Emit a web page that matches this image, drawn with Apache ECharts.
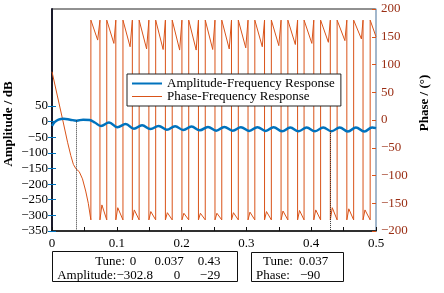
<!DOCTYPE html>
<html>
<head>
<meta charset="utf-8">
<script src="https://cdn.jsdelivr.net/npm/echarts@6/dist/echarts.min.js"></script>
<style>
  html, body { margin: 0; padding: 0; background: #fff; }
  #chart { width: 444px; height: 293px; }
</style>
</head>
<body>
<div id="chart"></div>
<script>
// amplitude-frequency response (dB)
const ampX = [0, 0.004, 0.010, 0.018, 0.028, 0.038, 0.048, 0.058, 0.066,
  0.0756, 0.088, 0.101, 0.1137, 0.1264, 0.139, 0.152, 0.1646, 0.1772, 0.19,
  0.2026, 0.2153, 0.228, 0.2407, 0.2534, 0.266, 0.2788, 0.2915, 0.3042, 0.317,
  0.3296, 0.342, 0.355, 0.3677, 0.3804, 0.393, 0.4058, 0.4185, 0.4312, 0.444,
  0.4566, 0.469, 0.482, 0.494, 0.5]
const ampY = [-14, -2, 6, 9, 6, 3, 6, 5, -3,
  -14, -3, -18, -8, -23, -12, -24, -14, -26, -15,
  -27, -16, -28, -17, -29, -17, -29, -18, -30, -18,
  -30, -18, -31, -19, -31, -19, -31, -19, -31, -19,
  -32, -19, -32, -19, -21]

// phase-frequency response (deg): first fall, then wrapped cycles
const phaseStartX = [0, 0.008, 0.016, 0.024, 0.029, 0.033, 0.037, 0.042, 0.047, 0.052, 0.056, 0.060]
const phaseStart = [87, 45, 3, -40, -64, -80, -88, -93, -106, -128, -150, -180]
const wrapUpX = [0.060, 0.0845, 0.1095, 0.1345, 0.160, 0.1855, 0.211, 0.2365, 0.262,
  0.2875, 0.313, 0.3385, 0.364, 0.389, 0.4145, 0.440, 0.4655, 0.491]
const vBottomX = [0.0705, 0.0955, 0.1205, 0.146, 0.1715, 0.197, 0.2225, 0.248, 0.2735,
  0.299, 0.3245, 0.35, 0.3755, 0.401, 0.4265, 0.452, 0.4775, 0.5]
const vBottom = [144, 138, 132, 128, 127, 126, 126, 127, 128,
  130, 132, 134, 136, 138, 140, 143, 146, 150]
const wrapDownX = [0.074, 0.0985, 0.124, 0.1495, 0.175, 0.2005, 0.226, 0.2515, 0.277,
  0.3025, 0.328, 0.3535, 0.379, 0.404, 0.4295, 0.455, 0.480]
const humpX = [0.077, 0.1015, 0.127, 0.1525, 0.178, 0.2035, 0.229, 0.2545, 0.280,
  0.3055, 0.331, 0.3565, 0.382, 0.407, 0.4325, 0.458, 0.483]
const hump = [-153, -158, -162, -165, -167, -168, -168, -168, -167,
  -166, -165, -164, -163, -162, -158, -160, -162]

// left axis ticks, readout boxes
const ampTicks = [-350, -300, -250, -200, -150, -100, -50, 0, 50]
const markTune = [0, 0.037, 0.43]
const markAmp = ['\u2212302.8', '0', '\u221229']
const cursorTune = '0.037'
const cursorPhase = '\u221290'

const blue = '#0072BD'
const orange = '#D95319'
const serif = 'Liberation Serif'

const ampData = ampX.map((x, i) => [x, ampY[i]])

const phaseData = phaseStartX.map((x, i) => [x, phaseStart[i]])
wrapUpX.forEach((x, i) => {
  phaseData.push([x, 180])
  phaseData.push([vBottomX[i], vBottom[i]])
  if (i < wrapDownX.length) {
    phaseData.push([wrapDownX[i], 180])
    phaseData.push([wrapDownX[i], -180])
    phaseData.push([humpX[i], hump[i]])
    phaseData.push([wrapUpX[i + 1], -180])
  }
})

const txt = (x, y, s, align) => ({
  type: 'text', x, y,
  style: { text: s, font: '13px "' + serif + '"', fill: '#000',
    textAlign: align || 'left', textVerticalAlign: 'middle' }
})

const chart = echarts.init(document.getElementById('chart'))

const option = {
  animation: false,
  grid: { left: 52, right: 68, top: 9, bottom: 62, show: true, borderColor: '#222', borderWidth: 1 },
  legend: {
    orient: 'vertical', left: 127, top: 74,
    padding: [3, 6, 3, 5], itemGap: 0, itemWidth: 30, itemHeight: 2,
    backgroundColor: '#fff', borderColor: '#222', borderWidth: 1,
    textStyle: { fontFamily: serif, fontSize: 13, color: '#000', lineHeight: 11 },
    data: [
      { name: 'Amplitude-Frequency Response', icon: 'rect' },
      { name: 'Phase-Frequency Response', icon: 'path://M0,0 L30,0 L30,1 L0,1 Z' }
    ]
  },
  xAxis: {
    type: 'value', min: 0, max: 0.5, interval: 0.05,
    axisLine: { onZero: false, lineStyle: { color: '#111', width: 1.5 } },
    axisTick: { inside: true, length: 4, lineStyle: { color: '#111' } },
    splitLine: { show: false },
    axisLabel: {
      margin: 6, fontFamily: serif, fontSize: 13, color: '#000', hideOverlap: false,
      formatter: v => (Math.round(v * 100) % 10 === 0 ? String(+v.toFixed(1)) : '')
    }
  },
  yAxis: [
    {
      type: 'value', min: -350, max: 360, position: 'left',
      axisLine: { show: true, onZero: false, lineStyle: { color: '#1a1a2a', width: 2 } },
      axisTick: { show: true, inside: true, length: 4, customValues: ampTicks, lineStyle: { color: blue } },
      axisLabel: { margin: 4, customValues: ampTicks, fontFamily: serif, fontSize: 13, color: '#000',
        formatter: v => String(v).replace('-', '\u2212') },
      splitLine: { show: false }
    },
    {
      type: 'value', min: -200, max: 200, interval: 50, position: 'right',
      axisLine: { show: true, onZero: false, lineStyle: { color: '#a9c4e0', width: 1.5 } },
      axisTick: { show: true, inside: true, length: 4, lineStyle: { color: orange } },
      axisLabel: { margin: 5, fontFamily: serif, fontSize: 13, color: '#9a2e14',
        formatter: v => String(v).replace('-', '\u2212') },
      splitLine: { show: false }
    },
    {
      type: 'value', min: -350, max: 360, position: 'right',
      axisLine: { show: false },
      axisTick: { show: true, inside: true, length: 4, customValues: ampTicks, lineStyle: { color: blue } },
      axisLabel: { show: false },
      splitLine: { show: false }
    }
  ],
  series: [
    {
      name: 'Amplitude-Frequency Response', type: 'line', yAxisIndex: 0,
      data: ampData, symbol: 'none', smooth: 0.4, z: 4,
      lineStyle: { color: blue, width: 2.5 }, itemStyle: { color: blue },
      markLine: {
        silent: true, symbol: 'none', label: { show: false },
        lineStyle: { color: '#333', type: 'dotted', width: 1 },
        data: [
          [{ coord: [0.037, 4] }, { coord: [0.037, -350] }],
          [{ coord: [0.43, -30] }, { coord: [0.43, -350] }]
        ]
      }
    },
    {
      name: 'Phase-Frequency Response', type: 'line', yAxisIndex: 1,
      data: phaseData, symbol: 'none', z: 2,
      lineStyle: { color: orange, width: 1 }, itemStyle: { color: orange }
    }
  ],
  graphic: [
    { type: 'text', x: 9, y: 124, rotation: Math.PI / 2,
      style: { text: 'Amplitude / dB', font: 'bold 13px "' + serif + '"', fill: '#000',
        textAlign: 'center', textVerticalAlign: 'middle' } },
    { type: 'text', x: 425, y: 103, rotation: Math.PI / 2,
      style: { text: 'Phase / (\u00b0)', font: 'bold 13px "' + serif + '"', fill: '#000',
        textAlign: 'center', textVerticalAlign: 'middle' } },
    { type: 'rect', shape: { x: 52.5, y: 251.5, width: 185, height: 30 },
      style: { fill: '#fff', stroke: '#111', lineWidth: 1 } },
    { type: 'rect', shape: { x: 251.5, y: 252.5, width: 92, height: 29 },
      style: { fill: '#fff', stroke: '#111', lineWidth: 1 } },
    txt(125, 262, 'Tune:', 'right'),
    txt(133, 262, String(markTune[0]), 'center'),
    txt(169, 262, String(markTune[1]), 'center'),
    txt(209, 262, String(markTune[2]), 'center'),
    txt(153, 276, 'Amplitude:' + markAmp[0], 'right'),
    txt(177, 276, markAmp[1], 'center'),
    txt(210, 276, markAmp[2], 'center'),
    txt(263, 262, 'Tune:'),
    txt(299, 262, cursorTune),
    txt(256, 276, 'Phase:'),
    txt(300, 276, cursorPhase)
  ]
}

chart.setOption(option)
</script>
</body>
</html>
